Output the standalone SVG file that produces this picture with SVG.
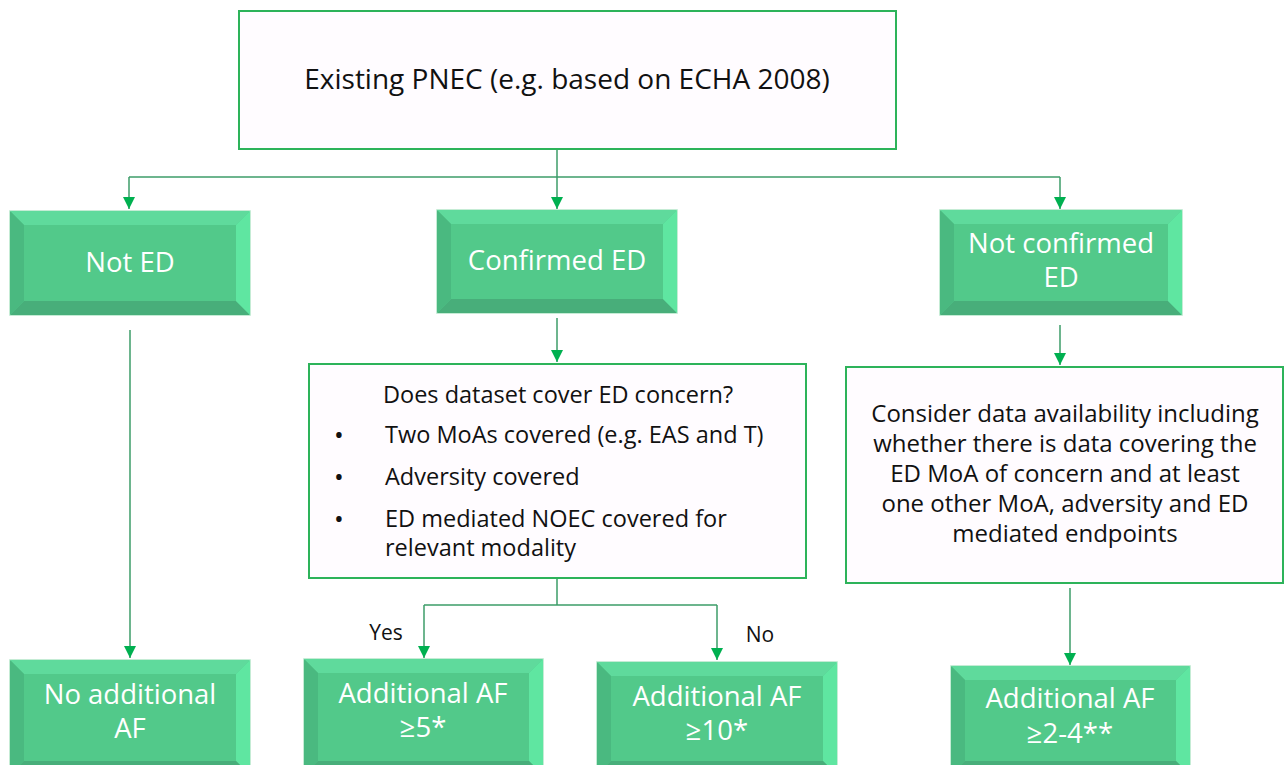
<svg xmlns="http://www.w3.org/2000/svg" width="1284" height="765" viewBox="0 0 1284 765">
<defs>
<style>
.box{fill:#fffcff;stroke:#2db35a;stroke-width:2}
.outer{fill:#52c98a;stroke:#b2e6c8;stroke-width:1.5}
.bt{fill:#5fda9c}
.bb{fill:#48ae7a}
.bl{fill:#4ab980}
.br{fill:#5fe6a1}
.wt{font-family:"Open Sans","Noto Sans",sans-serif;font-size:27.5px;fill:#ffffff;text-anchor:middle}
.bk{font-family:"Open Sans","Noto Sans",sans-serif;fill:#111111}
.ln{fill:none;stroke:#3c9d68;stroke-width:1.5}
</style>
<marker id="ah" viewBox="0 0 10 10" refX="10" refY="5" markerWidth="12" markerHeight="12" markerUnits="userSpaceOnUse" orient="auto">
<path d="M0,0 L10,5 L0,10 z" fill="#00b050"/>
</marker>
</defs>
<rect width="1284" height="765" fill="#ffffff"/>

<g id="connectors">
<path class="ln" d="M557,149 V177"/>
<path class="ln" d="M129,177 H1060"/>
<path class="ln" d="M129,177 V209" marker-end="url(#ah)"/>
<path class="ln" d="M557,177 V209" marker-end="url(#ah)"/>
<path class="ln" d="M1060,177 V209" marker-end="url(#ah)"/>
<path class="ln" d="M130,330 V658" marker-end="url(#ah)"/>
<path class="ln" d="M557,318 V362" marker-end="url(#ah)"/>
<path class="ln" d="M1060,325 V365" marker-end="url(#ah)"/>
<path class="ln" d="M557,579 V605 M424,605 H717"/>
<path class="ln" d="M424,605 V658" marker-end="url(#ah)"/>
<path class="ln" d="M717,605 V660" marker-end="url(#ah)"/>
<path class="ln" d="M1070,588 V665" marker-end="url(#ah)"/>
<text class="bk" x="386" y="640" font-size="21" text-anchor="middle">Yes</text>
<text class="bk" x="760" y="642" font-size="21" text-anchor="middle">No</text>
</g>

<g id="existing-pnec">
<rect class="box" x="239" y="11" width="657" height="138"/>
<text class="bk" x="567" y="89" font-size="28" text-anchor="middle">Existing PNEC (e.g. based on ECHA 2008)</text>
</g>

<g id="not-ed">
<rect class="outer" x="10" y="211" width="240" height="104"/>
<polygon class="bt" points="10,211 250,211 236,225 24,225"/>
<polygon class="bb" points="10,315 250,315 236,301 24,301"/>
<polygon class="bl" points="10,211 24,225 24,301 10,315"/>
<polygon class="br" points="250,211 236,225 236,301 250,315"/>
<text class="wt" x="130" y="272">Not ED</text>
</g>

<g id="confirmed-ed">
<rect class="outer" x="437" y="210" width="240" height="103"/>
<polygon class="bt" points="437,210 677,210 663,224 451,224"/>
<polygon class="bb" points="437,313 677,313 663,299 451,299"/>
<polygon class="bl" points="437,210 451,224 451,299 437,313"/>
<polygon class="br" points="677,210 663,224 663,299 677,313"/>
<text class="wt" x="557" y="270">Confirmed ED</text>
</g>

<g id="not-confirmed-ed">
<rect class="outer" x="940" y="210" width="242" height="105"/>
<polygon class="bt" points="940,210 1182,210 1168,224 954,224"/>
<polygon class="bb" points="940,315 1182,315 1168,301 954,301"/>
<polygon class="bl" points="940,210 954,224 954,301 940,315"/>
<polygon class="br" points="1182,210 1168,224 1168,301 1182,315"/>
<text class="wt" x="1061" y="253">Not confirmed</text>
<text class="wt" x="1061" y="287">ED</text>
</g>

<g id="dataset-question">
<rect class="box" x="309" y="364" width="497" height="214"/>
<g font-size="23.5">
<text class="bk" x="558" y="403" text-anchor="middle">Does dataset cover ED concern?</text>
<text class="bk" x="334" y="444" font-size="26">•</text>
<text class="bk" x="385" y="443">Two MoAs covered (e.g. EAS and T)</text>
<text class="bk" x="334" y="486" font-size="26">•</text>
<text class="bk" x="385" y="485">Adversity covered</text>
<text class="bk" x="334" y="528" font-size="26">•</text>
<text class="bk" x="385" y="527">ED mediated NOEC covered for</text>
<text class="bk" x="385" y="556">relevant modality</text>
</g>
</g>

<g id="consider-data">
<rect class="box" x="846" y="367" width="437" height="216"/>
<g font-size="24" text-anchor="middle">
<text class="bk" x="1065" y="422">Consider data availability including</text>
<text class="bk" x="1065" y="452">whether there is data covering the</text>
<text class="bk" x="1065" y="482">ED MoA of concern and at least</text>
<text class="bk" x="1065" y="512">one other MoA, adversity and ED</text>
<text class="bk" x="1065" y="542">mediated endpoints</text>
</g>
</g>

<g id="no-additional-af">
<rect class="outer" x="10" y="660" width="240" height="115"/>
<polygon class="bt" points="10,660 250,660 236,674 24,674"/>
<polygon class="bl" points="10,660 24,674 24,761 10,775"/>
<polygon class="br" points="250,660 236,674 236,761 250,775"/>
<polygon class="bb" points="10,775 250,775 236,761 24,761"/>
<text class="wt" x="130" y="704">No additional</text>
<text class="wt" x="130" y="738">AF</text>
</g>

<g id="af-5">
<rect class="outer" x="304" y="659" width="239" height="116"/>
<polygon class="bt" points="304,659 543,659 529,673 318,673"/>
<polygon class="bl" points="304,659 318,673 318,761 304,775"/>
<polygon class="br" points="543,659 529,673 529,761 543,775"/>
<polygon class="bb" points="304,775 543,775 529,761 318,761"/>
<text class="wt" x="423" y="703">Additional AF</text>
<text class="wt" x="423" y="737">≥5*</text>
</g>

<g id="af-10">
<rect class="outer" x="597" y="662" width="240" height="113"/>
<polygon class="bt" points="597,662 837,662 823,676 611,676"/>
<polygon class="bl" points="597,662 611,676 611,761 597,775"/>
<polygon class="br" points="837,662 823,676 823,761 837,775"/>
<polygon class="bb" points="597,775 837,775 823,761 611,761"/>
<text class="wt" x="717" y="706">Additional AF</text>
<text class="wt" x="717" y="740">≥10*</text>
</g>

<g id="af-2-4">
<rect class="outer" x="951" y="666" width="239" height="109"/>
<polygon class="bt" points="951,666 1190,666 1176,680 965,680"/>
<polygon class="bl" points="951,666 965,680 965,761 951,775"/>
<polygon class="br" points="1190,666 1176,680 1176,761 1190,775"/>
<polygon class="bb" points="951,775 1190,775 1176,761 965,761"/>
<text class="wt" x="1070" y="708">Additional AF</text>
<text class="wt" x="1070" y="743">≥2-4**</text>
</g>
</svg>
